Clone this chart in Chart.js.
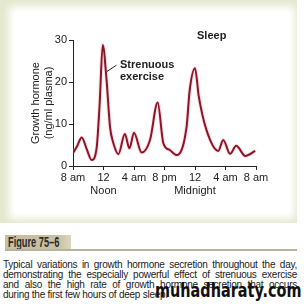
<!DOCTYPE html>
<html><head><meta charset="utf-8">
<script src="https://cdn.jsdelivr.net/npm/chart.js@4/dist/chart.umd.min.js"></script>
<style>
html,body{margin:0;padding:0;background:#fff;width:304px;height:306px;overflow:hidden;font-family:"Liberation Sans",Arial,sans-serif;}
#frame{position:absolute;left:0;top:0;width:297px;height:223px;background:#e4e8cd;}
#inner{position:absolute;left:14px;top:11px;width:276px;height:203px;background:#fff;box-shadow:0 0 8px 5px #fff;}
#wrap{position:absolute;left:0;top:0;width:304px;height:210px;}
.lbl{position:absolute;font-weight:bold;font-size:11px;color:#222;line-height:12px;}
#fig{position:absolute;left:5px;top:235px;width:66px;height:15px;background:linear-gradient(90deg,#c9c0a3 80%,#ddd6c0);}
#figt{position:absolute;left:8px;top:234px;font-weight:bold;font-size:14px;color:#2a2a2a;line-height:16px;transform:scaleX(0.66);transform-origin:left top;white-space:nowrap;}
#rule{position:absolute;left:5px;top:249px;width:292px;height:2px;background:#b8b2a0;}
#cap{position:absolute;left:3px;top:260px;width:294px;font-size:10px;line-height:10px;color:#222;letter-spacing:-0.25px;}
#cap div{text-align:justify;text-align-last:justify;white-space:nowrap;}
#cap div.last{text-align-last:left;}
#wm{position:absolute;left:155px;top:279px;font-family:"DejaVu Sans",sans-serif;font-weight:bold;font-size:19px;color:#111;transform:scaleX(0.76);transform-origin:left top;white-space:nowrap;}
</style></head><body>
<div id="frame"><div id="inner"></div></div>
<div id="wrap"><canvas id="c" width="304" height="210"></canvas></div>
<div class="lbl" style="left:197px;top:29px;">Sleep</div>
<div class="lbl" style="left:120px;top:58px;">Strenuous<br>exercise</div>
<div id="fig"></div><div id="figt">Figure 75–6</div>
<div id="rule"></div>
<div id="cap">
<div>Typical variations in growth hormone secretion throughout the day,</div>
<div>demonstrating the especially powerful effect of strenuous exercise</div>
<div>and also the high rate of growth hormone secretion that occurs</div>
<div class="last">during the first few hours of deep sleep.</div>
</div>
<div id="wm">muhadharaty.com</div>
<script>
const hours = [0, 0.5, 1.15, 1.8, 2.45, 3.1, 3.5, 3.9, 4.4, 4.85, 5.3, 5.95, 6.8, 7.4, 8.0, 9.0, 10.1, 11.1, 11.85, 12.7, 13.6, 14.9, 15.3, 16.0, 16.5, 17.5, 19.05, 19.7, 20.6, 21.4, 22.6, 23.9];
const ghLevel = [3.1, 4.6, 6.8, 4.0, 1.4, 4.3, 15, 28.8, 20.5, 9.4, 5.4, 2.8, 7.6, 4.2, 7.9, 3.2, 6.2, 15.1, 5.4, 3.8, 2.6, 9.4, 18, 23.3, 16.5, 8.6, 3.6, 6.2, 2.9, 4.8, 2.4, 3.6];
const xTickValues = [0, 4, 8, 12, 16, 20, 24];
const xTickLabels = ['8 am', ['12', 'Noon'], '4 am', '8 pm', ['12', 'Midnight'], '4 am', '8 am'];
const yTicks = [0, 10, 20, 30];

const pts = hours.map((h, i) => ({x: h, y: ghLevel[i]}));
const font = {family: '"Liberation Sans", Arial, sans-serif', size: 11};

const leader = {
  id: 'leader',
  afterDatasetsDraw(chart) {
    const {ctx, scales: {x, y}} = chart;
    ctx.save();
    ctx.strokeStyle = '#222';
    ctx.lineWidth = 1;
    ctx.beginPath();
    ctx.moveTo(x.getPixelForValue(4.45), y.getPixelForValue(22.5));
    ctx.lineTo(x.getPixelForValue(5.7), y.getPixelForValue(24));
    ctx.stroke();
    ctx.restore();
  }
};

new Chart(document.getElementById('c'), {
  type: 'line',
  data: {datasets: [
    {data: pts, borderColor: '#8e1425', borderWidth: 2, pointRadius: 0, cubicInterpolationMode: 'monotone', fill: false},
    {data: pts, borderColor: 'rgba(235,160,175,0.3)', borderWidth: 4, pointRadius: 0, cubicInterpolationMode: 'monotone', fill: false}
  ]},
  options: {
    responsive: false, animation: false, events: [],
    layout: {padding: {left: 0, right: 48, top: 40, bottom: 12}},
    plugins: {legend: {display: false}, tooltip: {enabled: false}},
    scales: {
      x: {
        type: 'linear', min: 0, max: 24,
        afterBuildTicks: s => { s.ticks = xTickValues.map(v => ({value: v})); },
        afterFit: s => { s.height = 32; },
        border: {color: '#222', width: 1},
        grid: {drawOnChartArea: false, drawTicks: true, tickLength: 4, color: '#222'},
        ticks: {color: '#222', font: font, padding: 1, maxRotation: 0, autoSkip: false,
          callback: (v) => { const i = xTickValues.indexOf(v); return i >= 0 ? xTickLabels[i] : ''; }}
      },
      y: {
        min: 0, max: 30,
        afterBuildTicks: s => { s.ticks = yTicks.map(v => ({value: v})); },
        afterFit: s => { s.width = 73; },
        border: {color: '#222', width: 1},
        grid: {drawOnChartArea: false, drawTicks: true, tickLength: 4, color: '#222'},
        ticks: {color: '#222', font: font, padding: 2},
        title: {display: true, text: ['Growth hormone', '(ng/ml plasma)'], color: '#222', font: font, padding: {top: 29, bottom: 0}}
      }
    }
  },
  plugins: [leader]
});
</script>
</body></html>
